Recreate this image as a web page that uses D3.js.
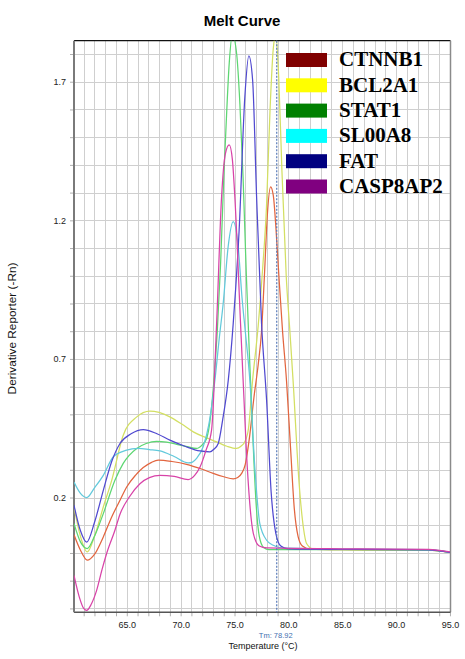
<!DOCTYPE html>
<html>
<head>
<meta charset="utf-8">
<script src="https://cdn.jsdelivr.net/npm/d3@7/dist/d3.min.js"></script>
<style>
  body { margin: 0; background: #ffffff; }
  svg { display: block; }
</style>
</head>
<body>
<svg id="chart" width="465" height="659"></svg>
<script>
// Melt curve series: [temperature °C, derivative reporter (-Rn)]
const seriesNames = ["CTNNB1", "BCL2A1", "STAT1", "SL00A8", "FAT", "CASP8AP2"];
const legendColors = ["#800000", "#ffff00", "#008000", "#00ffff", "#000080", "#800080"];
const lineColors = ["#e2653f", "#d3df62", "#5dd672", "#62c9db", "#5049d0", "#d843a8"];

const ctnnb1 = [[60.1,0.066],[60.7,0.01],[61.33,-0.026],[62.0,-0.005],[62.82,0.058],[63.6,0.13],[64.37,0.19],[64.99,0.238],[65.8,0.28],[66.53,0.308],[67.3,0.327],[67.92,0.335],[69.2,0.33],[70.55,0.32],[72.0,0.302],[73.02,0.287],[74.0,0.275],[74.88,0.267],[75.3,0.272],[75.66,0.287],[76.0,0.32],[76.4,0.42],[76.8,0.56],[77.2,0.68],[77.51,0.8],[77.8,1.02],[78.05,1.22],[78.35,1.321],[78.6,1.29],[78.85,1.17],[79.15,0.98],[79.46,0.8],[79.83,0.62],[80.2,0.38],[80.55,0.16],[80.91,0.058],[81.3,0.025],[82.0,0.014],[85.0,0.012],[90.0,0.011],[93.0,0.01],[95.0,0.002]];
const bcl2a1 = [[60.1,0.166],[60.7,0.06],[61.33,0.004],[62.0,0.06],[62.82,0.166],[63.6,0.262],[64.67,0.425],[65.9,0.49],[67.15,0.512],[68.0,0.507],[69.0,0.491],[70.1,0.465],[71.17,0.437],[72.3,0.417],[73.34,0.401],[74.3,0.385],[75.19,0.377],[75.6,0.385],[75.96,0.401],[76.3,0.45],[76.67,0.62],[77.2,0.82],[77.6,1.02],[77.97,1.25],[78.3,1.6],[78.6,1.82],[78.84,1.87],[79.1,1.72],[79.4,1.38],[79.8,1.0],[80.14,0.8],[80.44,0.62],[81.0,0.25],[81.4,0.09],[81.69,0.034],[82.3,0.014],[85.0,0.012],[90.0,0.011],[93.0,0.01],[95.0,0.003]];
const stat1 = [[60.1,0.106],[60.7,0.04],[61.33,0.016],[62.0,0.06],[62.82,0.142],[63.9,0.262],[64.67,0.323],[65.92,0.377],[66.8,0.395],[67.77,0.403],[68.7,0.4],[69.63,0.392],[70.6,0.384],[71.48,0.377],[72.0,0.39],[72.41,0.413],[72.8,0.5],[73.09,0.623],[73.4,0.8],[73.71,1.045],[74.0,1.35],[74.2,1.526],[74.51,1.767],[74.8,1.87],[75.2,1.8],[75.5,1.62],[75.8,1.35],[76.1,1.0],[76.4,0.7],[76.7,0.42],[77.0,0.18],[77.3,0.06],[77.7,0.02],[78.2,0.012],[85.0,0.012],[90.0,0.011],[93.0,0.01],[95.0,0.002]];
const sl00a8 = [[60.1,0.256],[60.7,0.215],[61.28,0.2],[62.0,0.235],[62.82,0.28],[63.75,0.347],[64.9,0.37],[66.07,0.377],[67.1,0.373],[68.08,0.368],[69.4,0.348],[70.7,0.325],[71.1,0.328],[71.48,0.341],[72.09,0.383],[72.6,0.46],[73.18,0.623],[73.6,0.78],[73.95,0.9],[74.41,1.105],[74.88,1.195],[75.34,1.105],[75.7,0.92],[76.0,0.8],[76.43,0.62],[76.9,0.3],[77.35,0.106],[78.0,0.045],[78.59,0.028],[79.5,0.018],[85.0,0.014],[90.0,0.013],[93.0,0.012],[95.0,0.003]];
const fat = [[60.1,0.172],[60.7,0.08],[61.28,0.039],[62.0,0.11],[62.82,0.226],[63.6,0.33],[64.37,0.395],[65.4,0.43],[66.53,0.445],[67.8,0.43],[69.0,0.407],[70.4,0.385],[71.79,0.368],[72.72,0.365],[73.1,0.375],[73.49,0.395],[73.9,0.48],[74.42,0.623],[74.88,0.828],[75.43,1.165],[75.96,1.646],[76.33,1.793],[76.68,1.706],[77.05,1.285],[77.51,0.828],[77.98,0.55],[78.4,0.22],[78.84,0.07],[79.3,0.025],[80.0,0.015],[85.0,0.013],[90.0,0.012],[93.0,0.011],[95.0,0.002]];
const casp8ap2 = [[60.1,-0.081],[60.6,-0.16],[61.0,-0.2],[61.28,-0.207],[61.7,-0.185],[62.2,-0.135],[62.7,-0.06],[63.13,-0.002],[63.9,0.082],[64.37,0.14],[65.2,0.2],[66.22,0.25],[67.1,0.272],[68.08,0.28],[69.4,0.276],[70.7,0.265],[71.3,0.28],[71.8,0.31],[72.35,0.37],[72.87,0.443],[73.34,0.828],[73.8,1.285],[74.15,1.44],[74.51,1.472],[74.8,1.42],[75.03,1.285],[75.56,0.828],[75.8,0.623],[76.2,0.3],[76.75,0.07],[77.3,0.025],[78.0,0.018],[85.0,0.015],[90.0,0.014],[93.0,0.013],[95.0,0.004]];

const seriesValues = [ctnnb1, bcl2a1, stat1, sl00a8, fat, casp8ap2];

const xTickLabels = [65, 70, 75, 80, 85, 90, 95];
const yTickLabels = [0.2, 0.7, 1.2, 1.7];
const tmValue = 78.92;

// Layout
const plot = { left: 74, right: 450.5, top: 40.7, bottom: 612.3 };
const x = d3.scaleLinear().domain([60.1, 95.05]).range([plot.left, plot.right]);
const y = d3.scaleLinear().domain([-0.214, 1.848]).range([plot.bottom, plot.top]);

const svg = d3.select("#chart");
const sans = "'Liberation Sans', Arial, sans-serif";

svg.append("defs").append("clipPath").attr("id", "plot-clip")
  .append("rect")
  .attr("x", plot.left).attr("y", plot.top)
  .attr("width", plot.right - plot.left).attr("height", plot.bottom - plot.top);

// Title
svg.append("text")
  .attr("x", 242).attr("y", 26)
  .attr("text-anchor", "middle")
  .attr("font-family", sans).attr("font-weight", "bold").attr("font-size", 15)
  .attr("fill", "#000")
  .text("Melt Curve");

// Grid: one line per degree and per 0.1 units
const xGrid = d3.range(61, 95);
const yGrid = d3.range(-2, 19).map(d => d / 10);

const grid = svg.append("g").attr("stroke", "#cfcfcf").attr("stroke-width", 1);
grid.selectAll("line.v").data(xGrid).join("line")
  .attr("class", "v")
  .attr("x1", d => Math.round(x(d)) + 0.5).attr("x2", d => Math.round(x(d)) + 0.5)
  .attr("y1", plot.top).attr("y2", plot.bottom);
grid.selectAll("line.h").data(yGrid).join("line")
  .attr("class", "h")
  .attr("y1", d => Math.round(y(d)) + 0.5).attr("y2", d => Math.round(y(d)) + 0.5)
  .attr("x1", plot.left).attr("x2", plot.right);

// Axes
const fmt = d3.format(".1f");
const xAxis = d3.axisBottom(x)
  .tickValues(xGrid.concat([95]))
  .tickSize(4).tickSizeOuter(0).tickPadding(5)
  .tickFormat(d => xTickLabels.includes(d) ? fmt(d) : "");
const yAxis = d3.axisLeft(y)
  .tickValues(yGrid)
  .tickSize(4).tickSizeOuter(0).tickPadding(4)
  .tickFormat(d => yTickLabels.some(v => Math.abs(v - d) < 1e-6) ? fmt(d) : "");

const gx = svg.append("g").attr("transform", `translate(0,${plot.bottom})`).call(xAxis);
const gy = svg.append("g").attr("transform", `translate(${plot.left},0)`).call(yAxis);
[gx, gy].forEach(g => {
  g.select(".domain").remove();
  g.selectAll(".tick line").attr("stroke", "#b0b0b0");
  g.selectAll(".tick text")
    .attr("font-family", sans).attr("font-size", 9).attr("fill", "#222");
});

// Plot frame
svg.append("line").attr("x1", plot.left).attr("x2", plot.right).attr("y1", plot.top).attr("y2", plot.top)
  .attr("stroke", "#111").attr("stroke-width", 1.2);
svg.append("line").attr("x1", plot.right).attr("x2", plot.right).attr("y1", plot.top).attr("y2", plot.bottom)
  .attr("stroke", "#8a8a8a").attr("stroke-width", 1.5);
svg.append("line").attr("x1", plot.left).attr("x2", plot.right).attr("y1", plot.bottom).attr("y2", plot.bottom)
  .attr("stroke", "#555").attr("stroke-width", 1.6);
svg.append("line").attr("x1", plot.left).attr("x2", plot.left).attr("y1", plot.top).attr("y2", plot.bottom)
  .attr("stroke", "#7a7a7a").attr("stroke-width", 2);

// Curves
const line = d3.line()
  .x(d => x(d[0])).y(d => y(d[1]))
  .curve(d3.curveMonotoneX);

svg.append("g").attr("clip-path", "url(#plot-clip)")
  .selectAll("path").data(seriesValues).join("path")
  .attr("d", line)
  .attr("fill", "none")
  .attr("stroke", (d, i) => lineColors[i])
  .attr("stroke-width", 1.25)
  .attr("stroke-linejoin", "round");

// Tm marker
svg.append("line")
  .attr("x1", x(tmValue)).attr("x2", x(tmValue))
  .attr("y1", plot.top).attr("y2", plot.bottom)
  .attr("stroke", "#5578b8").attr("stroke-width", 1.2)
  .attr("stroke-dasharray", "2,1.5");
svg.append("text")
  .attr("x", x(tmValue) - 1).attr("y", 637.5)
  .attr("text-anchor", "middle")
  .attr("font-family", sans).attr("font-size", 7.5).attr("fill", "#3f6fb0")
  .text("Tm: " + tmValue.toFixed(2));

// Axis titles
svg.append("text")
  .attr("x", 263).attr("y", 649)
  .attr("text-anchor", "middle")
  .attr("font-family", sans).attr("font-size", 9).attr("fill", "#111")
  .text("Temperature (°C)");
svg.append("text")
  .attr("transform", `translate(16,${(plot.top + plot.bottom) / 2 + 2}) rotate(-90)`)
  .attr("text-anchor", "middle")
  .attr("font-family", sans).attr("font-size", 11.8).attr("fill", "#111")
  .text("Derivative Reporter (-Rn)");

// Legend
const legend = svg.append("g").attr("transform", "translate(286,53)");
const rows = legend.selectAll("g").data(seriesNames).join("g")
  .attr("transform", (d, i) => `translate(0,${i * 25.3})`);
rows.append("rect")
  .attr("x", 0).attr("y", 0).attr("width", 41).attr("height", 14)
  .attr("fill", (d, i) => legendColors[i]);
rows.append("text")
  .attr("x", 53).attr("y", 13.3)
  .attr("font-family", "'Liberation Serif', 'Times New Roman', serif")
  .attr("font-weight", "bold").attr("font-size", 21).attr("fill", "#000")
  .text(d => d);
</script>
</body>
</html>
